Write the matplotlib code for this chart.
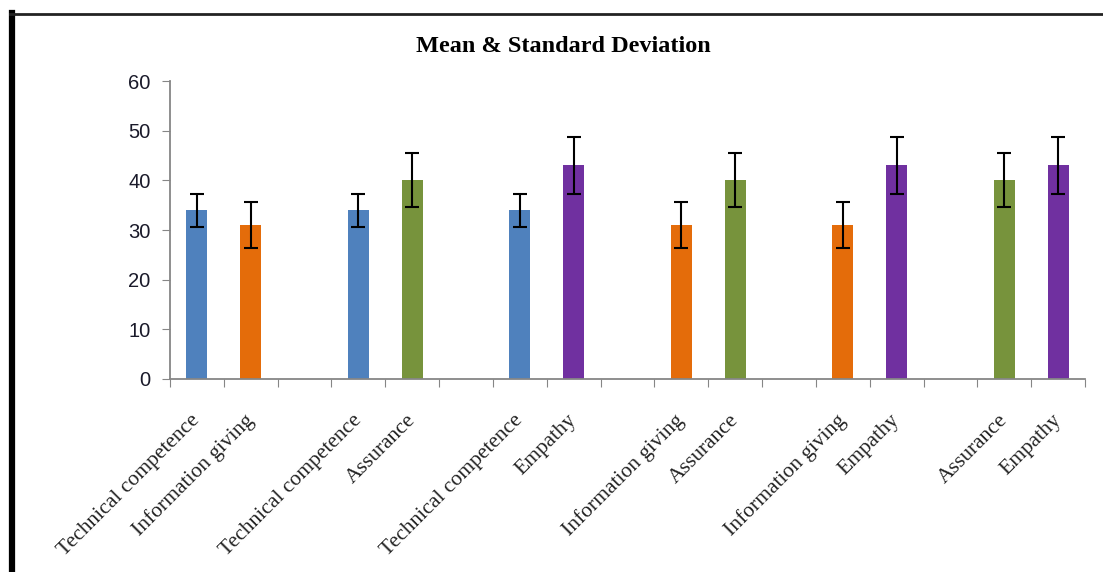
import matplotlib.pyplot as plt
import matplotlib.transforms as mtransforms
from matplotlib.lines import Line2D

# Pairs compared (each pair is one group of two bars)
pairs = [
    ('Technical competence', 'Information giving'),
    ('Technical competence', 'Assurance'),
    ('Technical competence', 'Empathy'),
    ('Information giving', 'Assurance'),
    ('Information giving', 'Empathy'),
    ('Assurance', 'Empathy'),
]

# Mean and standard deviation per dimension
dimensions = ['Technical competence', 'Information giving', 'Assurance', 'Empathy']
means = [34, 31, 40, 43]
sds = [3.3, 4.7, 5.45, 5.7]
colors = ['#4F81BD', '#E46C0A', '#77933C', '#7030A0']

yticks = [0, 10, 20, 30, 40, 50, 60]

# build slot list: two bars, then an empty slot
labels = []
for a, b in pairs:
    labels += [a, b, '']
labels = labels[:-1]

fig = plt.figure(figsize=(11.03, 5.72), dpi=100)
ax = fig.add_axes([170/1103, 1 - 379/572, (1085 - 170)/1103, (379 - 81)/572])

for i, name in enumerate(labels):
    if name == '':
        continue
    k = dimensions.index(name)
    ax.bar(i + 0.5, means[k], width=0.39, color=colors[k], zorder=2)
    ax.errorbar(i + 0.5, means[k], yerr=sds[k], color='black', lw=1.5,
                capsize=5, capthick=1.5, zorder=3)

ax.set_xlim(0, len(labels))
ax.set_ylim(0, 60)
ax.set_yticks(yticks)
ax.set_yticklabels([str(v) for v in yticks], fontfamily='Liberation Sans', fontsize=14.5, color='#1a1a2a')

ax.set_xticks(range(len(labels) + 1))
ax.set_xticklabels([])
ax.set_xticks([i + 0.5 for i in range(len(labels))], minor=True)
ax.set_xticklabels(labels, minor=True, rotation=45, ha='right', va='top',
                   fontfamily='Liberation Serif', fontsize=15.5, color='#222222')
ax.tick_params(axis='x', which='minor', length=0, pad=23)
ax.tick_params(axis='x', which='major', length=6, color='#868686', direction='out')
ax.tick_params(axis='y', length=6, color='#868686', direction='out', pad=8)
offset = mtransforms.ScaledTranslation(7/100, 0, fig.dpi_scale_trans)
for lab in ax.get_xticklabels(minor=True):
    lab.set_transform(lab.get_transform() + offset)

for s in ['top', 'right']:
    ax.spines[s].set_visible(False)
for s in ['left', 'bottom']:
    ax.spines[s].set_color('#868686')
    ax.spines[s].set_linewidth(1.3)

fig.text(563/1103, 1 - 47/572, 'Mean & Standard Deviation', ha='center', va='center',
         fontfamily='Liberation Serif', fontweight='bold', fontsize=17.5)

# outer frame (left and top edges)
fig.add_artist(Line2D([12/1103, 12/1103], [0, 1 - 13/572], color='black', lw=4.5,
                      transform=fig.transFigure))
fig.add_artist(Line2D([10/1103, 1], [1 - 13.5/572, 1 - 13.5/572], color='#222222', lw=2,
                      transform=fig.transFigure))

plt.savefig('out.png', dpi=100)
